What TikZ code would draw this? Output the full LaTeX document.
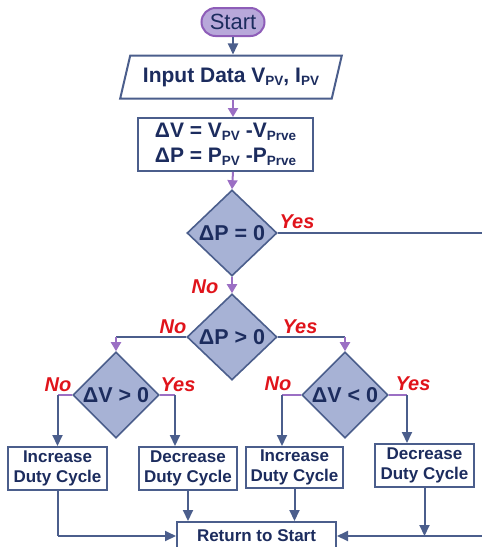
\documentclass[tikz,border=0pt]{standalone}
\usepackage{fontspec}
\setmainfont{Liberation Sans}
\usetikzlibrary{shapes.geometric,arrows.meta}
\definecolor{flowline}{HTML}{4B5E8C}
\definecolor{flowpurple}{HTML}{9B6FC4}
\definecolor{flowtext}{HTML}{1C2C5E}
\definecolor{decfill}{HTML}{A7B2D5}
\definecolor{startfill}{HTML}{B8A8DA}
\definecolor{startdraw}{HTML}{8E5DB8}
\definecolor{labred}{HTML}{E0141B}
\newcommand{\lowsub}[1]{\raisebox{-0.3ex}{\fontsize{13.5}{13.5}\selectfont #1}}

\begin{document}
\begin{tikzpicture}[x=1pt,y=-1pt,
  box/.style={draw=flowline,line width=2pt,fill=white,text=flowtext,font=\bfseries\fontsize{17}{20}\selectfont,align=center,inner sep=0pt},
  decision/.style={diamond,draw=flowline,line width=1.6pt,fill=decfill,text=flowtext,font=\bfseries\fontsize{21.5}{23}\selectfont,inner sep=0pt},
  yesno/.style={text=labred,font=\bfseries\itshape\fontsize{20}{22}\selectfont,inner sep=0pt},
  bluearrow/.style={draw=flowline,line width=2pt,-{Triangle[width=10pt,length=11pt]}},
  purplearrow/.style={draw=flowpurple,line width=2pt,-{Triangle[width=10pt,length=9pt]}},
  blueline/.style={draw=flowline,line width=2pt},
  purpleline/.style={draw=flowpurple,line width=2pt}]
\useasboundingbox (0,0) rectangle (482,547);
\clip (0,0) rectangle (482,547);
% Drawing start and input
\node[draw=startdraw,line width=2pt,fill=startfill,rounded corners=14pt,minimum width=63pt,minimum height=28pt,inner sep=0pt,text=flowtext,font=\fontsize{22}{24}\selectfont] (start) at (233,22) {Start};
\node[trapezium,trapezium left angle=65,trapezium right angle=115,trapezium stretches=true,minimum width=222pt,minimum height=43pt,box,font=\bfseries\fontsize{21}{22}\selectfont] (input) at (231,77) {Input Data V\lowsub{PV}, I\lowsub{PV}};
\node[box,minimum width=175pt,minimum height=53pt,font=\bfseries\fontsize{21}{25}\selectfont] (calc) at (225.5,144.5) {ΔV = V\lowsub{PV} -V\lowsub{Prve}\\ΔP = P\lowsub{PV} -P\lowsub{Prve}};
% Drawing decisions
\node[decision,minimum width=90pt,minimum height=86pt] (dP0) at (232,233) {ΔP = 0};
\node[decision,minimum width=90pt,minimum height=86pt] (dPg) at (232,337) {ΔP > 0};
\node[decision,minimum width=86pt,minimum height=86pt] (dVg) at (116,395) {ΔV > 0};
\node[decision,minimum width=86pt,minimum height=86pt] (dVl) at (345,395) {ΔV < 0};
% Drawing duty cycle boxes
\node[box,minimum width=99pt,minimum height=43pt] (inc1) at (57.5,468.5) {Increase\\Duty Cycle};
\node[box,minimum width=98pt,minimum height=43pt] (dec1) at (188,468.5) {Decrease\\Duty Cycle};
\node[box,minimum width=97pt,minimum height=41pt] (inc2) at (294.5,467.5) {Increase\\Duty Cycle};
\node[box,minimum width=99pt,minimum height=43pt] (dec2) at (424.5,465.5) {Decrease\\Duty Cycle};
\node[box,minimum width=159pt,minimum height=28pt] (ret) at (256.5,536) {Return to Start};
% Drawing connectors
\draw[bluearrow] (start) -- (start|-input.north);
\draw[purplearrow] (start|-input.south) -- (start|-calc.north);
\draw[purplearrow] (start|-calc.south) -- (dP0.north);
\draw[purplearrow] (dP0.south) -- (dPg.north);
\coordinate (farright) at (495,0);
\draw[blueline] (dP0.east) -- (dP0.east-|farright) -- (farright|-ret.east);
\draw[bluearrow] (farright|-ret.east) -- (ret.east);
\draw[blueline] (dPg.west) -- (dPg.west-|dVg);
\draw[purplearrow] (dPg.west-|dVg) -- (dVg.north);
\draw[blueline] (dPg.east) -- (dPg.east-|dVl);
\draw[purplearrow] (dPg.east-|dVl) -- (dVl.north);
\draw[purpleline] (dVg.west) -- (dVg.west-|inc1);
\draw[bluearrow] (dVg.west-|inc1) -- (inc1.north);
\draw[purpleline] (dVg.east) -- (175,395) coordinate (dVgr);
\draw[bluearrow] (dVgr) -- (dVgr|-dec1.north);
\draw[purpleline] (dVl.west) -- (282,395) coordinate (dVll);
\draw[bluearrow] (dVll) -- (dVll|-inc2.north);
\draw[purpleline] (dVl.east) -- (407,395) coordinate (dVlr);
\draw[bluearrow] (dVlr) -- (dVlr|-dec2.north);
\draw[blueline] (inc1.south) -- (inc1|-ret.west);
\draw[bluearrow] (inc1|-ret.west) -- (ret.west);
\draw[bluearrow] (dec1.south) -- (dec1|-ret.north);
\draw[bluearrow] (inc2.south) -- (inc2|-ret.north);
\draw[bluearrow] (dec2.south) -- (dec2|-ret.east);
% Drawing yes and no labels
\node[yesno] (yes0) at (297,222) {Yes};
\node[yesno] (no0) at (205,287) {No};
\node[yesno] (no1) at (173,327) {No};
\node[yesno] (yes1) at (300,327) {Yes};
\node[yesno] (no2) at (58,385) {No};
\node[yesno] (yes2) at (178,385) {Yes};
\node[yesno] (no3) at (278,384) {No};
\node[yesno] (yes3) at (413,384) {Yes};
\end{tikzpicture}
\end{document}
